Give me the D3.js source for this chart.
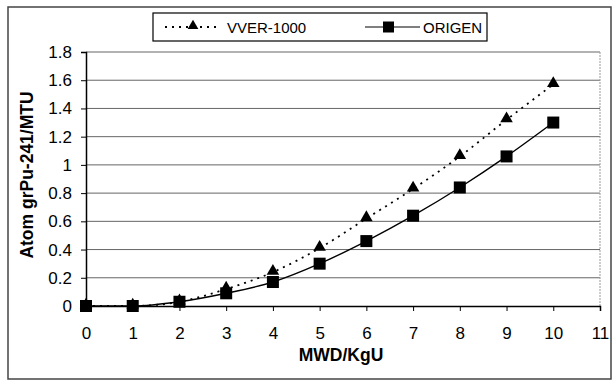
<!DOCTYPE html>
<html>
<head>
<meta charset="utf-8">
<script src="https://cdn.jsdelivr.net/npm/d3@7"></script>
<style>
  body { margin: 0; background: #fff; }
  text { font-family: "Liberation Sans", Arial, sans-serif; fill: #000; }
</style>
</head>
<body>
<svg id="chart" width="615" height="381"></svg>
<script>
const burnup = [0, 1, 2, 3, 4, 5, 6, 7, 8, 9, 10];
const vver = [0, 0, 0.03, 0.12, 0.24, 0.41, 0.62, 0.83, 1.06, 1.32, 1.57];
const origen = [0, 0, 0.03, 0.09, 0.17, 0.30, 0.46, 0.64, 0.84, 1.06, 1.30];
const xTicks = [0, 1, 2, 3, 4, 5, 6, 7, 8, 9, 10, 11];
const yTicks = [0, 0.2, 0.4, 0.6, 0.8, 1, 1.2, 1.4, 1.6, 1.8];

const svg = d3.select("#chart");
const plotL = 86, plotR = 600, plotT = 52, plotB = 306;

const x = d3.scaleLinear().domain([0, 11]).range([plotL, plotR]);
const y = d3.scaleLinear().domain([0, 1.8]).range([plotB, plotT]);

// outer frame
svg.append("rect")
  .attr("x", 8).attr("y", 7).attr("width", 603).attr("height", 372)
  .attr("fill", "none").attr("stroke", "#444").attr("stroke-width", 1.5);

// gridlines
svg.append("g").selectAll("line")
  .data(yTicks.filter(d => d > 0))
  .join("line")
  .attr("x1", plotL).attr("x2", plotR)
  .attr("y1", d => y(d)).attr("y2", d => y(d))
  .attr("stroke", "#666").attr("stroke-width", 1);

// plot border right
svg.append("line")
  .attr("x1", plotR).attr("x2", plotR).attr("y1", plotT).attr("y2", plotB)
  .attr("stroke", "#999").attr("stroke-dasharray", "2,1");

// axes
const xAxis = d3.axisBottom(x).tickValues(xTicks).tickSize(5).tickFormat(d3.format("d"));
const yAxis = d3.axisLeft(y).tickValues(yTicks).tickSize(5).tickFormat(d => String(+d.toFixed(1)));

const gx = svg.append("g").attr("transform", `translate(0,${plotB})`).call(xAxis);
gx.select(".domain").attr("stroke", "#000").attr("stroke-width", 1.5);
gx.selectAll(".tick line").attr("stroke", "#000");
gx.selectAll("text").attr("font-size", 17).attr("y", 20).attr("dy", "0.75em");

const gy = svg.append("g").attr("transform", `translate(${plotL},0)`).call(yAxis);
gy.select(".domain").attr("stroke", "#000").attr("stroke-width", 1.5);
gy.selectAll(".tick line").attr("stroke", "#000");
gy.selectAll("text").attr("font-size", 17).attr("x", -14);

// axis titles
svg.append("text")
  .attr("x", 341).attr("y", 361)
  .attr("text-anchor", "middle").attr("font-size", 17.5).attr("font-weight", "bold")
  .text("MWD/KgU");

svg.append("text")
  .attr("transform", "translate(33,175) rotate(-90)")
  .attr("text-anchor", "middle").attr("font-size", 17.5).attr("font-weight", "bold")
  .text("Atom grPu-241/MTU");

const line = d3.line()
  .x((d, i) => x(burnup[i]))
  .y(d => y(d))
  .curve(d3.curveMonotoneX);

svg.append("path").datum(vver)
  .attr("d", line).attr("fill", "none")
  .attr("stroke", "#000").attr("stroke-width", 1.8).attr("stroke-dasharray", "2,5");

svg.append("path").datum(origen)
  .attr("d", line).attr("fill", "none")
  .attr("stroke", "#000").attr("stroke-width", 1.4);

const tri = d3.symbol().type(d3.symbolTriangle).size(68);
svg.append("g").selectAll("path")
  .data(vver)
  .join("path")
  .attr("d", tri)
  .attr("transform", (d, i) => `translate(${x(burnup[i])},${y(d) - 1})`)
  .attr("fill", "#000");

const sq = 12;
svg.append("g").selectAll("rect")
  .data(origen)
  .join("rect")
  .attr("x", (d, i) => x(burnup[i]) - sq / 2)
  .attr("y", d => y(d) - sq / 2)
  .attr("width", sq).attr("height", sq)
  .attr("fill", "#000");

// legend
const lg = svg.append("g");
lg.append("rect")
  .attr("x", 153).attr("y", 13).attr("width", 334).attr("height", 28)
  .attr("fill", "#fff").attr("stroke", "#000").attr("stroke-width", 1.2);
lg.append("line")
  .attr("x1", 165).attr("x2", 221).attr("y1", 27).attr("y2", 27)
  .attr("stroke", "#000").attr("stroke-width", 1.8).attr("stroke-dasharray", "2,5");
lg.append("path").attr("d", d3.symbol().type(d3.symbolTriangle).size(50))
  .attr("transform", "translate(193,26)").attr("fill", "#000");
lg.append("text").attr("x", 227).attr("y", 32.5).attr("font-size", 15).text("VVER-1000");
lg.append("line")
  .attr("x1", 365).attr("x2", 420).attr("y1", 27).attr("y2", 27)
  .attr("stroke", "#000").attr("stroke-width", 1.2);
lg.append("rect").attr("x", 383).attr("y", 21.5).attr("width", 11).attr("height", 11).attr("fill", "#000");
lg.append("text").attr("x", 423).attr("y", 32.5).attr("font-size", 15).text("ORIGEN");
</script>
</body>
</html>
